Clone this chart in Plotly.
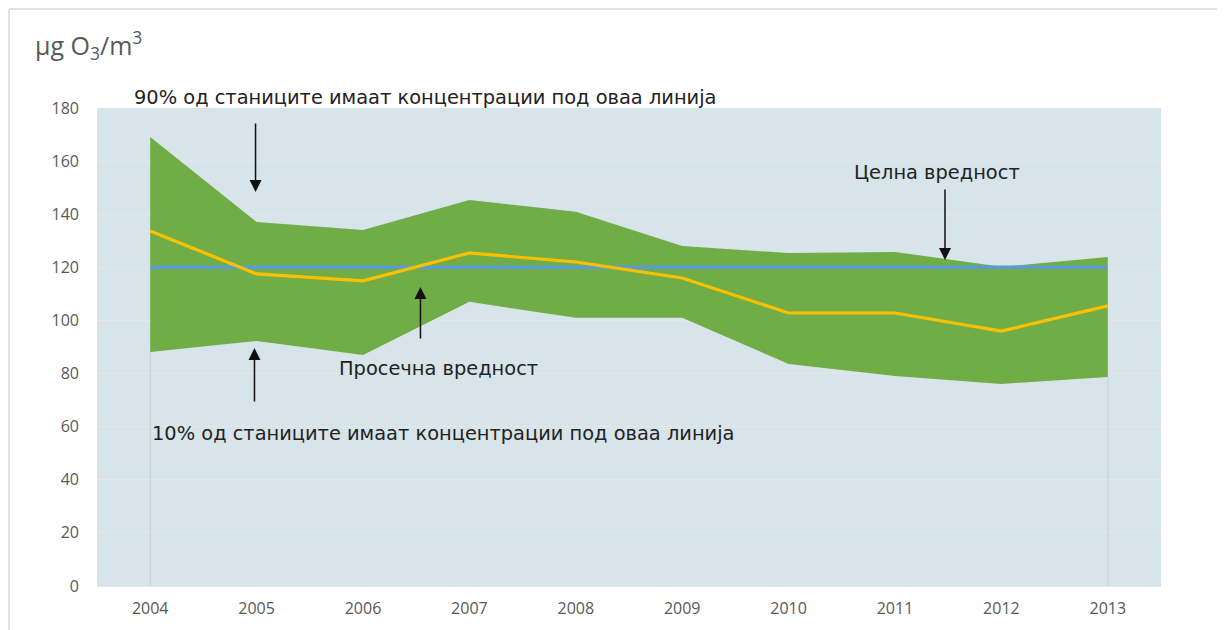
import plotly.graph_objects as go

years = [2004, 2005, 2006, 2007, 2008, 2009, 2010, 2011, 2012, 2013]
p90 = [169.1, 137.1, 134.1, 145.4, 140.9, 128.0, 125.4, 125.8, 120.2, 123.9]
p10 = [88.1, 92.3, 87.0, 107.0, 101.0, 101.0, 83.6, 79.1, 76.1, 78.7]
mean = [133.7, 117.5, 114.9, 125.4, 122.0, 116.0, 102.8, 102.8, 96.0, 105.5]
target = [120] * 10
y_ticks = [0, 20, 40, 60, 80, 100, 120, 140, 160, 180]

FONT = "DejaVu Sans"
TICK_FONT = "Open Sans"
GRAY = "#595959"

fig = go.Figure()
for i in (0, len(years) - 1):
    fig.add_trace(go.Scatter(x=[years[i], years[i]], y=[0, p10[i]], mode="lines",
                             line=dict(color="#c4d3d3", width=1), hoverinfo="skip",
                             showlegend=False))
fig.add_trace(go.Scatter(x=years, y=p10, mode="lines", line=dict(width=0, color="#70AD47"),
                         showlegend=False))
fig.add_trace(go.Scatter(x=years, y=p90, mode="lines", line=dict(width=0, color="#70AD47"),
                         fill="tonexty", fillcolor="#70AD47", showlegend=False))
fig.add_trace(go.Scatter(x=years, y=target, mode="lines", line=dict(width=3.5, color="#5B9BD5"),
                         showlegend=False))
fig.add_trace(go.Scatter(x=years, y=mean, mode="lines", line=dict(width=3.2, color="#FFC000"),
                         showlegend=False))

text_font = dict(family=FONT, size=19.4, color="#222222")
annotations = [
    dict(text="µg O<sub>3</sub>/m<sup>3</sup>", xref="paper", yref="paper",
         x=-0.0597, y=1.132, xanchor="left", yanchor="middle", showarrow=False,
         font=dict(family="Open Sans", size=25, color=GRAY)),
    dict(text="90% од станиците имаат концентрации под оваа линија", xref="x", yref="paper",
         x=2003.83, y=1.023, xanchor="left", yanchor="middle", showarrow=False, font=text_font),
    dict(text="10% од станиците имаат концентрации под оваа линија", x=2004.0, y=57.5,
         xanchor="left", yanchor="middle", showarrow=False, font=text_font),
    dict(text="Просечна вредност", x=2005.76, y=82.0,
         xanchor="left", yanchor="middle", showarrow=False, font=text_font),
    dict(text="Целна вредност", x=2010.6, y=155.6,
         xanchor="left", yanchor="middle", showarrow=False, font=text_font),
]
arrow = dict(text="", showarrow=True, arrowhead=2, arrowsize=1.6, arrowwidth=1.5,
             arrowcolor="#111111", axref="pixel", ayref="pixel")
annotations += [
    dict(arrow, x=2004.99, y=148.4, ax=0, ay=-70),
    dict(arrow, x=2004.98, y=89.6, ax=0, ay=55),
    dict(arrow, x=2006.54, y=112.6, ax=0, ay=53),
    dict(arrow, x=2011.47, y=122.8, ax=0, ay=-72),
]

fig.update_layout(
    width=1217, height=622,
    margin=dict(l=89, r=64, t=100, b=44),
    paper_bgcolor="white", plot_bgcolor="#D7E4E9",
    annotations=annotations,
    xaxis=dict(range=[2003.5, 2013.5], tickvals=years, ticktext=[str(y) for y in years],
               showgrid=False, zeroline=False, showline=True, linecolor="#e3e8ea",
               tickfont=dict(family=TICK_FONT, size=16, color=GRAY), ticks="",
               ticklabelstandoff=8),
    yaxis=dict(range=[0, 180], tickvals=y_ticks, showgrid=True, gridcolor="#e6e6e6",
               gridwidth=1, zeroline=False, ticks="", ticklabelstandoff=17,
               tickfont=dict(family=TICK_FONT, size=16, color=GRAY)),
    shapes=[
        dict(type="line", xref="paper", yref="paper", x0=-0.0827, x1=1.1, y0=1.207, y1=1.207,
             line=dict(color="#d9d9d9", width=1.5)),
        dict(type="line", xref="paper", yref="paper", x0=-0.0827, x1=-0.0827, y0=-0.2, y1=1.207,
             line=dict(color="#d9d9d9", width=1.5)),
    ],
)

fig.write_html("out.html")
